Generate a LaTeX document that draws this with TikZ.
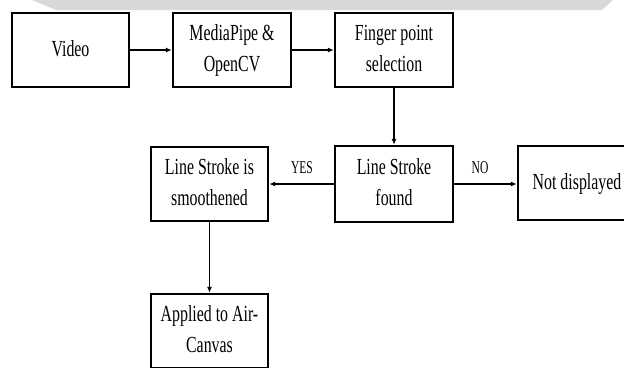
\documentclass[tikz,border=0pt]{standalone}
\usepackage{fontspec}
\setmainfont{Liberation Serif}
\usepackage{graphicx}
\usetikzlibrary{arrows.meta}
\newcommand\sqz[1]{\scalebox{0.69}[1]{\fontsize{23}{31}\selectfont\begin{tabular}{@{}c@{}}#1\end{tabular}}}
\newcommand\sqlab[1]{\scalebox{0.64}[1]{\fontsize{18}{20}\selectfont #1}}
\tikzset{
  blk/.style={draw=black, line width=2.4pt, minimum width=117pt, minimum height=74pt, inner sep=0pt, fill=white},
  conn/.style={line width=1.8pt, -{Latex[length=6pt,width=5pt]}},
  lab/.style={inner sep=0pt}
}
\begin{document}
\begin{tikzpicture}[x=1pt,y=-1pt]
\useasboundingbox (0,0) rectangle (624,367);
\fill[gray!30] (32,0) -- (613,0) -- (602,10) -- (56,10) -- cycle;
\node[blk] (video) at (70.5,50) {\sqz{Video}};
\node[blk, minimum width=118pt] (mp) at (232,50) {\sqz{MediaPipe \&\\OpenCV}};
\node[blk, minimum width=118pt] (fp) at (394,50) {\sqz{Finger point\\selection}};
\node[blk] (lsi) at (209.5,184) {\sqz{Line Stroke is\\smoothened}};
\node[blk, minimum width=118pt, minimum height=76pt] (lsf) at (394,184) {\sqz{Line Stroke\\found}};
\node[blk, minimum width=118pt] (nd) at (577,183) {\sqz{Not displayed}};
\node[blk] (app) at (209.5,331) {\sqz{Applied to Air-\\Canvas}};
\draw[conn] (video) -- (mp);
\draw[conn] (mp) -- (fp);
\draw[conn] (fp) -- (lsf);
\draw[conn] (lsf) -- (lsi);
\draw[conn] (lsf.east) -- (nd.west |- lsf.east);
\draw[conn] (lsi) -- (app);
\node[lab] (yes) at (302,168) {\sqlab{YES}};
\node[lab] (no) at (480,168) {\sqlab{NO}};
\end{tikzpicture}
\end{document}
